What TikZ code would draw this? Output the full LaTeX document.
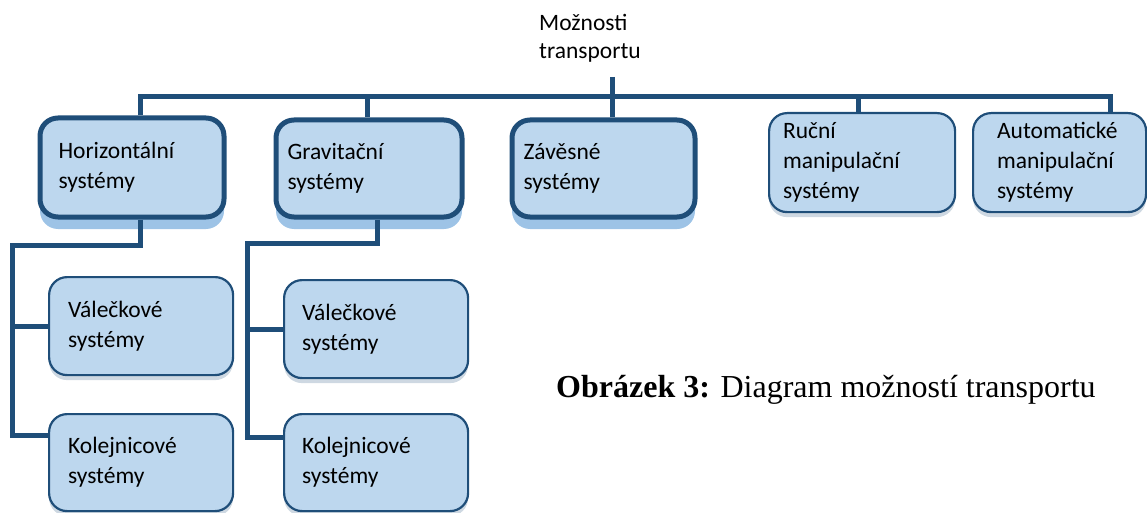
\documentclass[tikz,border=0pt]{standalone}
\usepackage{fontspec}
\setmainfont{Carlito}
\newfontfamily\capfont{Liberation Serif}
\usetikzlibrary{positioning,shadows}
\definecolor{boxfill}{HTML}{BDD7EE}
\definecolor{boxline}{HTML}{1F4E79}
\definecolor{boxshade}{HTML}{9DC3E6}
\tikzset{font=\fontsize{23.5}{30}\selectfont}

\begin{document}
\begin{tikzpicture}[x=1pt, y=-1pt]
	\useasboundingbox (0,0) rectangle (1147,513);
	\begin{scope}
		\tikzstyle{every node}=[align=left, anchor=north west]
		\tikzstyle{box}=[fill=boxfill, draw=boxline, rounded corners=18pt, inner ysep=0pt]
		\tikzstyle{heavy box}=[box, line width=5pt, drop shadow={fill=boxshade, opacity=1, shadow xshift=0pt, shadow yshift=-12pt}]
		\tikzstyle{light box}=[box, line width=2.2pt, drop shadow={fill=boxline, opacity=0.22, shadow xshift=0pt, shadow yshift=-5pt}]
		\tikzstyle{link}=[draw=boxline, line width=5pt]

		\node[inner sep=0pt, font=\fontsize{23.5}{28}\selectfont] (title) at (539, 14.5) {Možnosti\\transportu};

		% first row
		\node[heavy box, minimum width=184, minimum height=99, inner xsep=18.5, text width=147] (hor) at (37.5, 115.5) {Horizontální\\systémy};
		\node[heavy box, minimum width=186, minimum height=97, inner xsep=11.5, text width=163] (grav) at (273.5, 117.5) {Gravitační\\systémy};
		\node[heavy box, minimum width=183, minimum height=97, inner xsep=11.5, text width=160] (zav) at (509.5, 117.5) {Závěsné\\systémy};
		\node[light box, minimum width=186, minimum height=99, inner xsep=14, text width=158] (ruc) at (768, 112) {Ruční\\manipulační\\systémy};
		\node[light box, minimum width=173, minimum height=99, inner xsep=24, text width=125] (aut) at (972, 112) {Automatické\\manipulační\\systémy};

		% second level
		\node[light box, minimum width=184, minimum height=98, inner xsep=19, text width=146] (val1) at (48, 276) {Válečkové\\systémy};
		\node[light box, minimum width=184, minimum height=97, inner xsep=19, text width=146] (kol1) at (48, 413) {Kolejnicové\\systémy};
		\node[light box, minimum width=184, minimum height=98, inner xsep=18, text width=148] (val2) at (283, 279) {Válečkové\\systémy};
		\node[light box, minimum width=184, minimum height=97, inner xsep=18, text width=148] (kol2) at (283, 413) {Kolejnicové\\systémy};

		\node[anchor=base west, inner sep=0pt, font=\capfont\fontsize{32}{38}\selectfont] (caption) at (556, 397) {\textbf{Obrázek 3:} Diagram možností transportu};

		% connectors
		\coordinate (top) at (612, 77);
		\coordinate (d1) at (140, 96.5);
		\coordinate (d2) at (367, 96.5);
		\coordinate (d4) at (858, 96.5);
		\coordinate (d5) at (1110, 96.5);
		\draw[link] (d1 |- hor.north) -- (d1) -- (d5) -- (d5 |- aut.north);
		\foreach \d/\n in {d2/grav, d4/ruc}
			\draw[link] (\d) -- (\d |- \n.north);
		\draw[link] (top) -- (top |- zav.north);

		\coordinate (h1) at (140, 245);
		\coordinate (h2) at (12, 245);
		\coordinate (k1) at (12, 435);
		\draw[link] (h1 |- hor.south) -- (h1) -- (h2) -- (k1) -- (k1 -| kol1.west);
		\draw[link] (h2 |- val1.west) -- (val1.west);

		\coordinate (g1) at (377, 243);
		\coordinate (g2) at (247, 243);
		\coordinate (k2) at (247, 437);
		\draw[link] (g1 |- grav.south) -- (g1) -- (g2) -- (k2) -- (k2 -| kol2.west);
		\draw[link] (g2 |- val2.west) -- (val2.west);
	\end{scope}
\end{tikzpicture}
\end{document}
